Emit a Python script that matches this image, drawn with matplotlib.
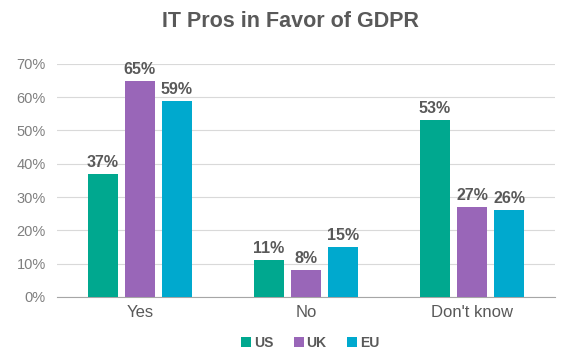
import numpy as np
import matplotlib
matplotlib.use("Agg")
import matplotlib.pyplot as plt

plt.rcParams["font.family"] = ["Liberation Sans", "DejaVu Sans"]

# Dados
categorias = ["Yes", "No", "Don't know"]
series = ["US", "UK", "EU"]
us = [37, 11, 53]
uk = [65, 8, 27]
eu = [59, 15, 26]
cores = ["#00A88F", "#9966B8", "#00A9CE"]

fig = plt.figure(figsize=(5.8, 3.59), dpi=100)
ax = fig.add_axes([0.098, 0.173, 0.859, 0.649])

x = np.arange(len(categorias))
largura = 0.18
passo = 0.223
for i, (nome, vals) in enumerate(zip(series, [us, uk, eu])):
    pos = x + (i - 1) * passo
    ax.bar(pos, vals, largura, color=cores[i], label=nome, zorder=3)
    for p, v in zip(pos, vals):
        ax.text(p, v + 1.2, f"{v}%", ha="center", va="bottom",
                fontsize=11.5, fontweight="bold", color="#595959")

ax.set_xlim(-0.5, 2.5)
ax.set_ylim(0, 70)
ax.set_yticks(range(0, 71, 10))
ax.set_yticklabels([f"{t}%" for t in range(0, 71, 10)])
ax.set_xticks(x)
ax.set_xticklabels(categorias)
ax.grid(axis="y", color="#D9D9D9", linewidth=0.8, zorder=0)
for s in ["top", "right", "left"]:
    ax.spines[s].set_visible(False)
ax.spines["bottom"].set_color("#A6A6A6")
ax.tick_params(axis="y", length=0, labelsize=10.5, labelcolor="#7F7F7F", pad=8)
ax.tick_params(axis="x", length=0, labelsize=12, labelcolor="#595959", pad=6)

fig.suptitle("IT Pros in Favor of GDPR", fontsize=15.5, fontweight="bold",
             color="#595959", y=0.97)

leg = fig.legend(loc="center", bbox_to_anchor=(0.535, 0.045), ncol=3,
                 frameon=False, handlelength=0.7, handleheight=0.7,
                 handletextpad=0.2, columnspacing=1.5,
                 prop={"size": 10, "weight": "bold"})
for t in leg.get_texts():
    t.set_color("#595959")

plt.savefig("out.png", dpi=100)
